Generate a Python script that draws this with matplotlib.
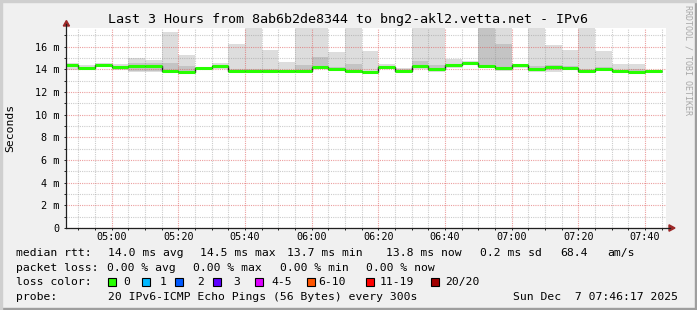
"""SmokePing style latency chart."""

import matplotlib

matplotlib.use("Agg")
import numpy as np
from matplotlib import pyplot as plt
from matplotlib.lines import Line2D
from matplotlib.patches import Polygon, Rectangle
from matplotlib.ticker import FuncFormatter, MultipleLocator

W, H = 697, 310
MONO = "DejaVu Sans Mono"

# 5 minute steps, minutes after midnight (04:45 .. 07:45)
step_start = list(range(285, 465, 5))
t_start, t_end = 286 + 17 / 60, 466 + 17 / 60

# median rtt per step (ms)
median = [14.39, 14.08, 14.39, 14.17, 14.26, 14.26, 13.90, 13.75, 14.08, 14.26,
          13.90, 13.84, 13.84, 13.84, 13.90, 14.17, 14.05, 13.90, 13.75, 14.20,
          13.90, 14.26, 13.99, 14.37, 14.55, 14.34, 14.08, 14.37, 13.99, 14.17,
          14.08, 13.84, 14.05, 13.84, 13.78, 13.84]
# smoke: min / max ping per step (ms)
smoke_lo = [13.95, 13.95, 14.30, 13.95, 13.75, 13.80, 13.75, 13.60, 13.95, 14.00,
            13.80, 13.70, 13.75, 13.75, 13.80, 14.00, 13.85, 13.80, 13.65, 14.10,
            13.80, 14.05, 13.80, 14.10, 14.40, 14.10, 13.90, 14.15, 13.75, 13.80,
            13.95, 13.75, 13.90, 13.75, 13.70, 13.80]
smoke_hi = [14.60, 14.35, 14.55, 14.45, 15.00, 14.80, 17.30, 15.30, 14.25, 14.55,
            16.20, 19.00, 15.74, 14.62, 19.00, 19.00, 15.50, 19.00, 15.64, 14.45,
            14.15, 19.00, 19.00, 14.95, 14.77, 19.00, 19.00, 14.50, 19.00, 16.17,
            15.73, 19.00, 15.60, 14.47, 14.47, 13.95]
# inner smoke band (ms)
core_lo = [14.20, 14.00, 14.35, 14.05, 13.90, 13.90, 13.85, 13.77, 14.00, 14.15,
           13.85, 13.78, 13.80, 13.80, 13.85, 14.10, 13.95, 13.85, 13.70, 14.15,
           13.85, 14.20, 13.90, 14.25, 14.45, 14.20, 14.00, 14.25, 13.90, 13.95,
           14.00, 13.80, 13.95, 13.80, 13.75, 13.82]
core_hi = [14.45, 14.20, 14.45, 14.30, 14.60, 14.55, 14.55, 14.27, 14.15, 14.35,
           14.05, 14.00, 14.00, 13.95, 14.40, 15.10, 14.25, 14.50, 13.90, 14.30,
           14.00, 14.75, 14.35, 14.45, 14.62, 19.00, 16.20, 14.45, 14.30, 14.40,
           14.30, 14.00, 14.20, 13.95, 14.00, 13.90]

loss_labels = ["0", "1", "2", "3", "4-5", "6-10", "11-19", "20/20"]
loss_colors = ["#26ff00", "#00b8ff", "#0059ff", "#5e00ff", "#dd00ff",
               "#ff5500", "#ff0000", "#a10000"]
loss_box_x = [108, 142, 175, 213, 255, 307, 366, 431]
loss_text_x = [123, 160, 197, 233, 271, 318, 380, 445]

rtt_items = [("14.0 ms avg", 108), ("14.5 ms max", 200), ("13.7 ms min", 287),
             ("13.8 ms now", 386), ("0.2 ms sd", 480), ("68.4", 560), ("am/s", 607)]
loss_items = [("0.00 % avg", 107), ("0.00 % max", 193), ("0.00 % min", 280),
              ("0.00 % now", 366)]


def fx(x):
    return x / W


def fy(y):
    return 1 - y / H


def ftext(fig, x, y, s, size=8.2, **kw):
    fig.text(fx(x), fy(y), s, fontsize=size, family=MONO, va="center", **kw)


fig = plt.figure(figsize=(W / 100, H / 100), dpi=100, facecolor="#f0f0f0")

# 3d frame
fig.patches.append(Rectangle((0, 0), 1, 2 / H, transform=fig.transFigure, color="#9e9e9e"))
fig.patches.append(Rectangle((1 - 2 / W, 0), 2 / W, 1, transform=fig.transFigure, color="#9e9e9e"))
fig.patches.append(Rectangle((0, 1 - 2 / H), 1, 2 / H, transform=fig.transFigure, color="#cfcfcf"))
fig.patches.append(Rectangle((0, 0), 2 / W, 1, transform=fig.transFigure, color="#cfcfcf"))

top, bottom, left, right = 27.7, 228, 66, 666
ax = fig.add_axes([fx(left), fy(bottom), (right - left) / W, (bottom - top) / H])
ax.set_facecolor("white")

edges = np.array(step_start + [step_start[-1] + 5], dtype=float)
ax.stairs(smoke_hi, edges, baseline=smoke_lo, fill=True, color="#dddddd", zorder=1)
ax.stairs(core_hi, edges, baseline=core_lo, fill=True, color="#c4c4c4", zorder=1.1)
ax.stairs(median, edges, baseline=None, color="#202020", lw=1.0, zorder=3)
ax.hlines(median, edges[:-1], edges[1:], color=loss_colors[0], lw=2.2, zorder=3.1)

ax.set_xlim(t_start, t_end)
ax.set_ylim(0, (bottom - top) / 11.33)

ax.xaxis.set_major_locator(MultipleLocator(20))
ax.xaxis.set_minor_locator(MultipleLocator(5))
ax.yaxis.set_major_locator(MultipleLocator(2))
ax.yaxis.set_minor_locator(MultipleLocator(1))
ax.xaxis.set_major_formatter(FuncFormatter(lambda v, p: f"{int(v // 60):02d}:{int(round(v % 60)):02d}"))
ax.yaxis.set_major_formatter(FuncFormatter(lambda v, p: "0" if v == 0 else f"{v:.0f} m"))

ax.set_axisbelow(False)
ax.grid(True, which="major", color="#de5050", alpha=0.55, lw=0.8, ls=(0, (1, 1)))
ax.grid(True, which="minor", color="#8f8f8f", alpha=0.45, lw=0.8, ls=(0, (1, 1)))
ax.tick_params(which="both", length=1.5, width=0.7, color="#202020", direction="out")
ax.tick_params(axis="x", pad=1.2, labelsize=7.3)
ax.tick_params(axis="y", pad=3.5, labelsize=7.3)
for lab in ax.get_xticklabels() + ax.get_yticklabels():
    lab.set_family(MONO)
for s in ax.spines.values():
    s.set_visible(False)

# axes with arrows
fig.add_artist(Line2D([fx(66), fx(66)], [fy(228), fy(24)], color="#202020", lw=0.9))
fig.add_artist(Line2D([fx(66), fx(670)], [fy(228), fy(228)], color="#202020", lw=0.9))
fig.add_artist(Polygon([(fx(63.3), fy(26)), (fx(69.5), fy(26)), (fx(66.4), fy(20.5))],
                       closed=True, transform=fig.transFigure, color="#9c2828"))
fig.add_artist(Polygon([(fx(669), fy(224.8)), (fx(669), fy(231.2)), (fx(675), fy(228))],
                       closed=True, transform=fig.transFigure, color="#9c2828"))

# title, labels, watermark
fig.text(fx(348), fy(19), "Last 3 Hours from 8ab6b2de8344 to bng2-akl2.vetta.net - IPv6",
         fontsize=9.6, family=MONO, ha="center", va="center")
fig.text(fx(10), fy(128), "Seconds", fontsize=8.2, family=MONO, rotation=90,
         ha="center", va="center")
fig.text(fx(688), fy(5), "RRDTOOL / TOBI OETIKER", fontsize=6, family=MONO,
         rotation=-90, ha="center", va="top", color="#a8a8a8")

# legend
ftext(fig, 16, 253.3, "median rtt:")
for s, x in rtt_items:
    ftext(fig, x, 253.3, s)
ftext(fig, 16, 268.3, "packet loss:")
for s, x in loss_items:
    ftext(fig, x, 268.3, s)
ftext(fig, 16, 282, "loss color:")
for lab, col, bx, tx in zip(loss_labels, loss_colors, loss_box_x, loss_text_x):
    fig.patches.append(Rectangle((fx(bx), fy(286)), 8 / W, 8 / H, transform=fig.transFigure,
                                 facecolor=col, edgecolor="black", lw=0.8))
    ftext(fig, tx, 282, lab)
ftext(fig, 16, 296.5, "probe:")
ftext(fig, 108, 296.5, "20 IPv6-ICMP Echo Pings (56 Bytes) every 300s")
ftext(fig, 513, 296.5, "Sun Dec  7 07:46:17 2025")

fig.savefig("out.png", dpi=100, facecolor=fig.get_facecolor())
